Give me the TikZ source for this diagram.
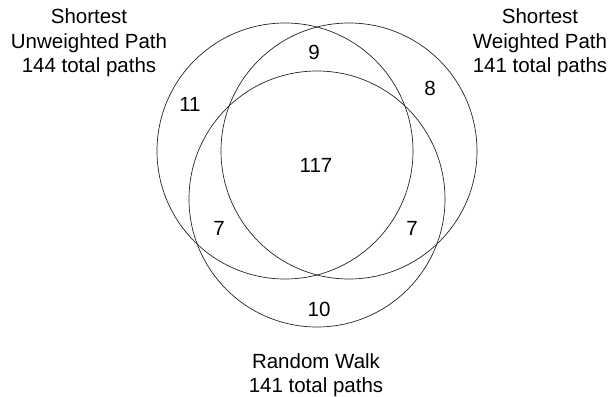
\documentclass[tikz,border=0pt]{standalone}
\usepackage{fontspec}
\setmainfont{Liberation Sans}
\begin{document}
\begin{tikzpicture}[x=1pt,y=-1pt,
  setcircle/.style={draw=black!85, line width=0.7pt},
  lbl/.style={align=center, inner sep=0pt, font=\fontsize{20.5}{24.5}\selectfont},
  num/.style={inner sep=0pt, font=\fontsize{20.5}{24.5}\selectfont}]
\useasboundingbox (0,0) rectangle (612,396);
\draw[setcircle] (285,151) circle (128);
\draw[setcircle] (349,151) circle (128);
\draw[setcircle] (317,199) circle (128);
\node[lbl] (lu) at (89,43) {Shortest\\Unweighted Path\\144 total paths};
\node[lbl] (lw) at (540,43) {Shortest\\Weighted Path\\141 total paths};
\node[lbl] (lr) at (316,375) {Random Walk\\141 total paths};
\node[num] (n9) at (314,52) {9};
\node[num] (n8) at (430,88) {8};
\node[num] (n11) at (190,104) {11};
\node[num] (n117) at (316,165) {117};
\node[num] (n7a) at (219,228) {7};
\node[num] (n7b) at (412,228) {7};
\node[num] (n10) at (319,309) {10};
\end{tikzpicture}
\end{document}
